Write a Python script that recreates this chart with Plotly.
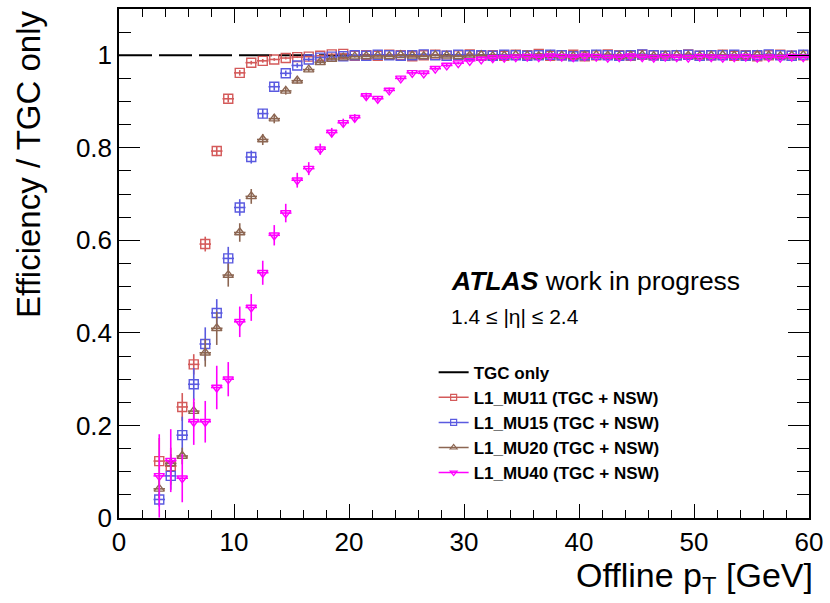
import plotly.graph_objects as go

FONT = "Liberation Sans, Arial, Helvetica, sans-serif"

pt = [3.5, 4.5, 5.5, 6.5, 7.5, 8.5, 9.5, 10.5, 11.5, 12.5, 13.5, 14.5, 15.5, 16.5, 17.5, 18.5, 19.5,
      20.5, 21.5, 22.5, 23.5, 24.5, 25.5, 26.5, 27.5, 28.5, 29.5, 30.5, 31.5, 32.5, 33.5, 34.5, 35.5,
      36.5, 37.5, 38.5, 39.5, 40.5, 41.5, 42.5, 43.5, 44.5, 45.5, 46.5, 47.5, 48.5, 49.5, 50.5, 51.5,
      52.5, 53.5, 54.5, 55.5, 56.5, 57.5, 58.5, 59.5]
pt_half = [0.5] * len(pt)

mu11 = [0.123, 0.112, 0.240, 0.332, 0.592, 0.793, 0.906, 0.962, 0.984, 0.988, 0.991, 0.994, 0.996, 0.997,
        0.999, 1.002, 1.003, 0.999, 1.000, 0.999, 1.001, 1.000, 0.998, 1.000, 1.001, 0.999, 1.000, 1.002,
        0.999, 1.000, 0.999, 1.001, 1.000, 1.003, 0.999, 1.000, 1.001, 0.998, 1.000, 1.002, 1.000, 0.999,
        1.001, 1.000, 0.999, 1.000, 1.002, 0.999, 1.000, 1.001, 0.999, 1.000, 0.998, 1.000, 1.001, 0.999, 1.000]
mu11_err = [0.050, 0.040, 0.030, 0.022, 0.016, 0.011, 0.008, 0.006, 0.004, 0.004, 0.003, 0.003, 0.002, 0.002,
            0.002, 0.002, 0.002, 0.002, 0.002, 0.002, 0.002, 0.002, 0.002, 0.002, 0.002, 0.002, 0.002, 0.002,
            0.002, 0.002, 0.002, 0.002, 0.002, 0.002, 0.002, 0.002, 0.002, 0.002, 0.002, 0.002, 0.002, 0.002,
            0.002, 0.002, 0.002, 0.002, 0.002, 0.002, 0.002, 0.002, 0.002, 0.002, 0.002, 0.002, 0.002, 0.002, 0.002]

mu15 = [0.040, 0.091, 0.179, 0.289, 0.376, 0.443, 0.561, 0.671, 0.780, 0.874, 0.932, 0.961, 0.978, 0.991,
        0.995, 0.997, 0.998, 1.000, 0.999, 1.001, 1.000, 0.999, 1.000, 1.002, 1.000, 0.999, 1.001, 1.000,
        1.000, 0.999, 1.001, 1.000, 0.999, 1.000, 1.001, 1.000, 0.998, 1.000, 1.001, 1.000, 0.999, 1.000,
        1.002, 1.000, 0.999, 1.000, 1.001, 0.999, 1.000, 1.000, 1.001, 0.999, 1.000, 1.002, 1.000, 0.999, 1.001]
mu15_err = [0.015, 0.030, 0.040, 0.035, 0.036, 0.030, 0.025, 0.018, 0.014, 0.010, 0.008, 0.006, 0.005, 0.004,
            0.003, 0.003, 0.003, 0.002, 0.002, 0.002, 0.002, 0.002, 0.002, 0.002, 0.002, 0.002, 0.002, 0.002,
            0.002, 0.002, 0.002, 0.002, 0.002, 0.002, 0.002, 0.002, 0.002, 0.002, 0.002, 0.002, 0.002, 0.002,
            0.002, 0.002, 0.002, 0.002, 0.002, 0.002, 0.002, 0.002, 0.002, 0.002, 0.002, 0.002, 0.002, 0.002, 0.002]

mu20 = [0.063, 0.118, 0.134, 0.231, 0.357, 0.410, 0.525, 0.617, 0.695, 0.818, 0.863, 0.923, 0.945, 0.969,
        0.985, 0.992, 0.995, 0.997, 0.998, 0.999, 0.998, 1.000, 0.999, 0.998, 1.000, 0.999, 0.998, 0.999,
        1.000, 0.998, 0.999, 1.000, 0.999, 0.998, 1.000, 0.999, 0.998, 0.999, 1.000, 0.999, 0.998, 0.999,
        1.000, 0.998, 0.999, 1.000, 0.999, 0.998, 0.999, 1.000, 0.999, 0.998, 1.000, 0.999, 0.998, 0.999, 1.000]
mu20_err = [0.020, 0.020, 0.018, 0.020, 0.030, 0.036, 0.025, 0.020, 0.016, 0.012, 0.010, 0.008, 0.006, 0.005,
            0.004, 0.003, 0.003, 0.002, 0.002, 0.002, 0.002, 0.002, 0.002, 0.002, 0.002, 0.002, 0.002, 0.002,
            0.002, 0.002, 0.002, 0.002, 0.002, 0.002, 0.002, 0.002, 0.002, 0.002, 0.002, 0.002, 0.002, 0.002,
            0.002, 0.002, 0.002, 0.002, 0.002, 0.002, 0.002, 0.002, 0.002, 0.002, 0.002, 0.002, 0.002, 0.002, 0.002]

mu40 = [0.091, 0.124, 0.086, 0.208, 0.208, 0.282, 0.300, 0.424, 0.455, 0.530, 0.611, 0.659, 0.730, 0.755,
        0.797, 0.833, 0.854, 0.865, 0.912, 0.906, 0.924, 0.950, 0.962, 0.961, 0.971, 0.978, 0.983, 0.988,
        0.991, 0.994, 0.995, 0.996, 0.997, 0.996, 0.998, 0.997, 0.996, 0.998, 0.997, 0.995, 0.996, 0.998,
        0.996, 0.995, 0.997, 0.996, 0.995, 0.997, 0.996, 0.995, 0.996, 0.997, 0.995, 0.996, 0.995, 0.997, 0.996]
mu40_err = [0.090, 0.068, 0.052, 0.050, 0.045, 0.047, 0.037, 0.033, 0.029, 0.026, 0.022, 0.020, 0.016, 0.014,
            0.012, 0.010, 0.009, 0.008, 0.007, 0.006, 0.006, 0.005, 0.005, 0.004, 0.004, 0.004, 0.003, 0.003,
            0.003, 0.002, 0.002, 0.002, 0.002, 0.002, 0.002, 0.002, 0.002, 0.002, 0.002, 0.002, 0.002, 0.002,
            0.002, 0.002, 0.002, 0.002, 0.002, 0.002, 0.002, 0.002, 0.002, 0.002, 0.002, 0.002, 0.002, 0.002, 0.002]

ref_x = [0, 60]
ref_y = [1, 1]

series = [
    ("L1_MU11 (TGC + NSW)", mu11, mu11_err, "#d45a5a", "square-open"),
    ("L1_MU15 (TGC + NSW)", mu15, mu15_err, "#5a5ae0", "square-open"),
    ("L1_MU20 (TGC + NSW)", mu20, mu20_err, "#8c6652", "triangle-up-open"),
    ("L1_MU40 (TGC + NSW)", mu40, mu40_err, "#ff00ff", "triangle-down-open"),
]

fig = go.Figure()

fig.add_trace(go.Scatter(
    x=ref_x, y=ref_y, mode="lines", name="TGC only",
    line=dict(color="black", width=2, dash="33px,7px"),
    legendgroup="g0", showlegend=True,
))

for i, (name, y, err, col, sym) in enumerate(series):
    fig.add_trace(go.Scatter(
        x=pt, y=y, mode="markers", name=name, showlegend=False,
        marker=dict(symbol=sym, size=9, color=col, line=dict(color=col, width=1.4)),
        error_y=dict(type="data", array=err, color=col, thickness=1.6, width=0),
        error_x=dict(type="data", array=pt_half, color=col, thickness=1.6, width=0),
    ))
    fig.add_trace(go.Scatter(
        x=[None], y=[None], mode="lines+markers", name=name,
        legendgroup="g%d" % (i + 1),
        marker=dict(symbol=sym, size=6, color=col, line=dict(color=col, width=1.2)),
        line=dict(color=col, width=1.5),
    ))

axis_common = dict(
    showline=True, linecolor="black", linewidth=1.5, mirror="ticks",
    ticks="inside", tickcolor="black", tickwidth=1.3,
    showgrid=False, zeroline=False,
    tickfont=dict(family=FONT, size=26, color="black"),
)

fig.update_xaxes(range=[0, 60], tickvals=[0, 10, 20, 30, 40, 50, 60], ticklen=14,
                 minor=dict(dtick=2, ticklen=8, tickwidth=1.3, tickcolor="black", ticks="inside"),
                 **axis_common)
fig.update_yaxes(range=[0, 1.1], tickvals=[0, 0.2, 0.4, 0.6, 0.8, 1], ticktext=["0", "0.2", "0.4", "0.6", "0.8", "1"],
                 ticklen=21,
                 minor=dict(dtick=0.05, ticklen=12, tickwidth=1.3, tickcolor="black", ticks="inside"),
                 **axis_common)

fig.update_layout(
    width=830, height=603,
    margin=dict(l=119, r=18, t=7, b=85),
    plot_bgcolor="white", paper_bgcolor="white",
    font=dict(family=FONT, color="black"),
    legend=dict(x=0.456, y=(518 - 354) / 511, xanchor="left", yanchor="top",
                font=dict(family=FONT, size=17, color="black", weight="bold"),
                bgcolor="rgba(0,0,0,0)", tracegroupgap=0, itemwidth=30),
    annotations=[
        dict(text="<b><i>ATLAS</i></b> work in progress", xref="paper", yref="paper",
             x=0.4776, y=(518 - 280) / 511, xanchor="left", yanchor="middle", showarrow=False,
             font=dict(family=FONT, size=26.5, color="black")),
        dict(text="1.4 ≤ |η| ≤ 2.4", xref="paper", yref="paper",
             x=0.4776, y=(518 - 316) / 511, xanchor="left", yanchor="middle", showarrow=False,
             font=dict(family=FONT, size=21, color="black")),
        dict(text="Efficiency / TGC only", xref="paper", yref="paper",
             x=(28 - 119) / 693, y=1.0, xanchor="center", yanchor="top", textangle=-90, showarrow=False,
             font=dict(family=FONT, size=33, color="black")),
        dict(text="Offline p<sub>T</sub> [GeV]", xref="paper", yref="paper",
             x=(818 - 119) / 693, y=(518 - 578) / 511, xanchor="right", yanchor="middle", showarrow=False,
             font=dict(family=FONT, size=34, color="black")),
    ],
)

fig.write_html("out.html")
